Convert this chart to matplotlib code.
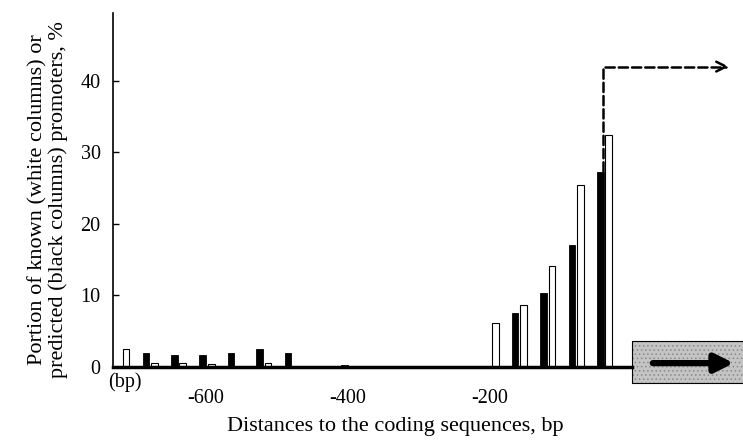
import numpy as np
import matplotlib
matplotlib.use("Agg")
import matplotlib.pyplot as plt
from matplotlib.patches import Rectangle

# bin centres, bp upstream of the coding sequence
bins = [-720, -680, -640, -600, -560, -520, -480, -440, -400,
        -360, -320, -280, -240, -200, -160, -120, -80, -40]
# predicted promoters (black columns), %
predicted = [0, 1.9, 1.7, 1.7, 1.9, 2.5, 1.9, 0, 0.3,
             0, 0, 0, 0, 0, 7.5, 10.3, 17.0, 27.2]
# known promoters (white columns), %
known = [2.5, 0.5, 0.5, 0.4, 0, 0.5, 0, 0, 0,
         0, 0, 0, 0, 6.1, 8.7, 14.1, 25.4, 32.4]
xticks = [-600, -400, -200]
yticks = [0, 10, 20, 30, 40]

plt.rcParams['font.family'] = ['Liberation Serif', 'DejaVu Serif']
plt.rcParams['axes.unicode_minus'] = False
plt.rcParams['hatch.linewidth'] = 0.6
fs = 14.5

fig = plt.figure(figsize=(7.43, 4.43), dpi=100)
ax = fig.add_axes([113/743, (443-366.7)/443, 630/743, (366.7-13)/443])

x = np.array(bins)
ax.bar(x - 4, predicted, width=9.5, color='black', edgecolor='black', linewidth=0.6)
ax.bar(x + 8, known, width=9.5, color='white', edgecolor='black', linewidth=0.8)

ax.set_xlim(-730.3, 157.0)
ax.set_ylim(0, 49.5)

for s in ['top', 'right']:
    ax.spines[s].set_visible(False)
ax.spines['left'].set_bounds(0, 49.5)
ax.spines['left'].set_linewidth(1.2)
ax.spines['bottom'].set_bounds(-730.3, 0)
ax.spines['bottom'].set_linewidth(2.5)

ax.set_yticks(yticks)
ax.set_xticks(xticks)
ax.tick_params(axis='y', direction='in', length=4, width=1, pad=9, labelsize=fs)
ax.tick_params(axis='x', length=0, pad=16, labelsize=fs)

ax.text(-714, -2.1, '(bp)', ha='center', va='center', fontsize=fs, clip_on=False)

# dashed arrow from the last pair
ax.annotate('', xy=(137, 42), xytext=(-40.5, 27.4),
            arrowprops=dict(arrowstyle='->,head_length=0.7,head_width=0.35',
                            connectionstyle='angle,angleA=90,angleB=0,rad=0',
                            linestyle='--', lw=1.8, color='black',
                            shrinkA=0, shrinkB=0))

# gene box with arrow
ax.add_patch(Rectangle((0, -2.3), 160, 5.9, facecolor='#c4c4c4', edgecolor='#8a8a8a',
                       linewidth=0, hatch='....', clip_on=False))
ax.add_patch(Rectangle((0, -2.3), 160, 5.9, facecolor='none', edgecolor='black',
                       linewidth=0.8, clip_on=False))
ax.annotate('', xy=(144, 0.5), xytext=(30, 0.5), annotation_clip=False,
            arrowprops=dict(arrowstyle='-|>,head_length=1.1,head_width=0.55',
                            lw=4.5, color='black', shrinkA=0, shrinkB=0))

fig.text(395/743, 1 - 427/443, 'Distances to the coding sequences, bp',
         ha='center', va='center', fontsize=16)
fig.text(48/743, 1 - 200/443,
         'Portion of known (white columns) or\npredicted (black columns) promoters, %',
         ha='center', va='center', rotation=90, fontsize=16, linespacing=1.1)

fig.savefig('out.png', dpi=100)
